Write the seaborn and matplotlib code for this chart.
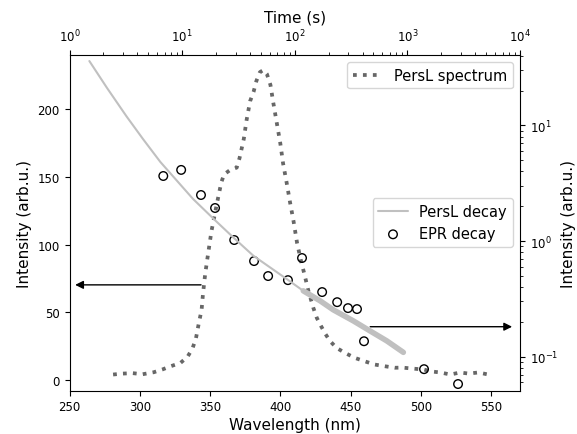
import matplotlib

matplotlib.use("Agg")
import matplotlib.pyplot as plt
import seaborn as sns

# PersL emission spectrum (bottom x / left y)
wavelength = [281, 288, 295, 302, 310, 316, 322, 329, 334, 337.5,
              340, 342, 344, 345, 346.5, 348, 350, 351, 355, 358,
              360, 364, 369, 371, 374, 376, 378.5, 381, 383, 385.5,
              388, 390.5, 393, 395, 397.5, 400, 402, 404.5, 407, 409.5,
              412, 415, 417, 420, 423.5, 426, 429, 432, 435.5, 440,
              446, 453, 460, 467, 474.5, 481.5, 487, 494, 502, 508,
              514, 521, 528, 534, 541, 548]
spectrum = [4.2, 4.9, 5.2, 4.4, 5.9, 7.9, 10.3, 12.8, 17.3, 23.4,
            31, 42, 52, 64, 78, 89, 103, 110, 131, 146,
            152, 155, 157, 164, 178, 192, 206, 213, 221, 227.5,
            229, 226, 218, 205, 190, 175, 160, 146, 131, 117,
            101, 87, 79, 66, 53.5, 46, 40, 34.3, 28.8, 23.9,
            20.2, 16.5, 14, 11.6, 10.3, 9.2, 9.3, 8.6, 7.9, 6.4,
            5.7, 4.2, 5.7, 4.9, 5.7, 4.2]

# PersL decay (top x / right y, log-log)
decay_time = [1.5, 2.15, 3.2, 4.5, 6.4, 8.8, 12.5, 19.5, 28.3, 42.9,
              84.9, 119, 168, 220, 331, 466, 656, 921]
decay_intensity = [36, 21.1, 12.0, 7.6, 4.83, 3.4, 2.31, 1.52, 1.08, 0.746,
                   0.469, 0.371, 0.304, 0.254, 0.204, 0.167, 0.137, 0.109]

# EPR decay points
epr_time = [6.8, 9.8, 14.7, 19.6, 29, 43.5, 58, 87, 116, 175,
            238, 297, 357, 412, 1406, 2818]
epr_intensity = [3.65, 4.12, 2.5, 1.93, 1.02, 0.671, 0.498, 0.459, 0.713, 0.362,
                 0.296, 0.263, 0.258, 0.136, 0.078, 0.058]

# arrows pointing at the axis each curve belongs to (wavelength, intensity)
left_arrow = ((343.6, 70.4), (254, 70.4))
right_arrow = ((464, 39.5), (565, 39.5))

sns.set_style("ticks", {
    "axes.edgecolor": "black",
    "xtick.color": "black",
    "ytick.color": "black",
    "text.color": "black",
    "axes.labelcolor": "black",
})

fig = plt.figure(figsize=(5.77, 4.35), dpi=100)
fig.subplots_adjust(left=0.1205, right=0.9012, bottom=0.1, top=0.8724)
ax1 = fig.add_subplot(111)
ax2 = fig.add_subplot(111, label="decay", frame_on=False)

# spectrum
sns.lineplot(x=wavelength, y=spectrum, ax=ax1, color="#676767",
             linestyle=":", linewidth=2.7, label="PersL spectrum")
ax1.set_xlim(250, 570.6)
ax1.set_ylim(-7.6, 240.5)
ax1.set_xlabel("Wavelength (nm)", fontsize=11, labelpad=3)
ax1.set_ylabel("Intensity (arb.u.)", fontsize=11)
ax1.tick_params(labelsize=8.5)
ax1.legend(loc="upper right", fontsize=10.5)

for start, end in [left_arrow, right_arrow]:
    ax1.annotate("", xy=end, xytext=start,
                 arrowprops=dict(arrowstyle="-|>", color="black", lw=1,
                                 shrinkA=0, shrinkB=0, mutation_scale=12))

# decay curves
ax2.set_xscale("log")
ax2.set_yscale("log")
sns.lineplot(x=decay_time, y=decay_intensity, ax=ax2, color="#c0c0c0",
             linewidth=1.5, label="PersL decay")
# noisy tail of the measurement shows up as a thicker band
sns.lineplot(x=decay_time[11:], y=decay_intensity[11:], ax=ax2, color="#c0c0c0",
             linewidth=4)
sns.scatterplot(x=epr_time, y=epr_intensity, ax=ax2, marker="o", s=38,
                facecolor="none", edgecolor="black", linewidth=1.0,
                label="EPR decay")
ax2.set_xlim(1, 1e4)
ax2.set_ylim(0.051, 41)
ax2.xaxis.tick_top()
ax2.xaxis.set_label_position("top")
ax2.yaxis.tick_right()
ax2.yaxis.set_label_position("right")
ax2.set_xlabel("Time (s)", fontsize=11, labelpad=5)
ax2.set_ylabel("Intensity (arb.u.)", fontsize=11, labelpad=2)
ax2.tick_params(which="both", labelsize=8.5)
handles, labels = ax2.get_legend_handles_labels()
keep = [i for i, lab in enumerate(labels) if not lab.startswith("_")]
ax2.legend([handles[i] for i in keep], [labels[i] for i in keep],
           loc="center right", fontsize=10.5)

fig.savefig("out.png", dpi=100)
